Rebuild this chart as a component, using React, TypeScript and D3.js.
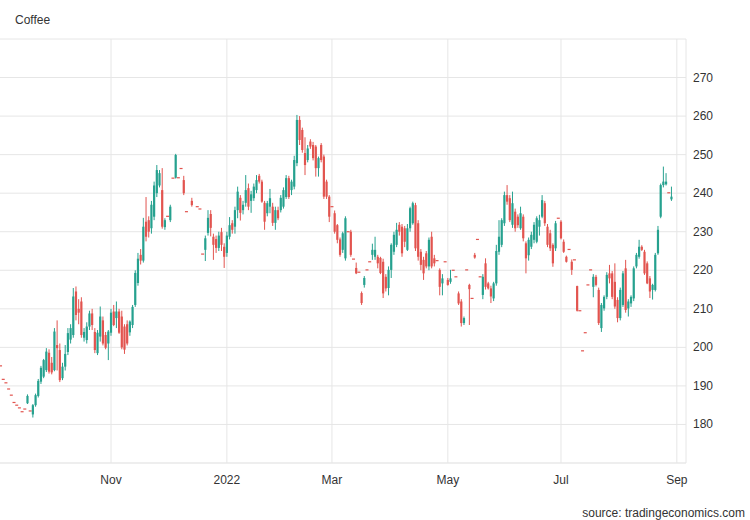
import React from "react";
import * as d3 from "d3";

const WIDTH = 750;
const HEIGHT = 520;
const PLOT = { left: 0, right: 686, top: 39, bottom: 463 };

const title = "Coffee";
const sourceText = "source: tradingeconomics.com";

// trading calendar (x categories)
const firstDay = "2021-09-01";
const lastDay = "2022-09-09";
const holidays = [
  "2021-09-06", "2021-11-25", "2021-12-24", "2022-01-17", "2022-02-21",
  "2022-04-15", "2022-05-30", "2022-06-20", "2022-07-04",
];
const tickMonths = ["2021-11", "2022-01", "2022-03", "2022-05", "2022-07", "2022-09"];
const tickLabels = ["Nov", "2022", "Mar", "May", "Jul", "Sep"];
const yTicks = [180, 190, 200, 210, 220, 230, 240, 250, 260, 270];
const yDomain = [170, 280];
const xDomain = [0.8, 255.4];

// OHLC per trading day starting 2021-09-01 (null = no mark)
const open = [
  196, 195.2, 191.7, 190.8, 189.2, 187.6, 185.7, 185.0, 184.3, 183.3,
  184.0, 185.5, 183.5, 182.6, 185.0, 187.4, 191.1, 192.4, 194.1, 198.6,
  196.0, 194.1, 200.6, 199.3, 192.0, 195.0, 198.8, 202.0, 203.2, 214.5,
  210.0, 211.9, 202.5, 201.9, 205.4, 208.8, 204.0, 198.5, 202.8, 207.0,
  203.2, 201.0, 203.8, 209.3, 207.6, 209.3, 208.0, 205.4, 206.0, 203.9,
  205.8, 211.0, 216.7, 224.0, 222.5, 232.6, 233.0, 230.9, 233.9, 240.0,
  242.0, 240.8, 231.2, 234.0, 233.0, 243.9, 244.0, 244.0, 246.4, 243.4,
  235.2, null, 238.0, null, 236.5, 235.9, 224.2, 225.3, 229.7, 234.6,
  228.7, 228.1, 225.8, 229.9, 226.1, 224.5, 228.7, 232.2, 231.3, 235.6,
  238.8, 235.6, 237.5, 241.3, 238.0, 238.7, 240.8, 244.5, 243.0, 237.5,
  234.8, 236.5, 236.5, 232.3, 235.6, 235.6, 236.5, 239.0, 243.9, 240.8,
  241.7, 247.8, 259.0, 256.4, 250.4, 248.6, 253.4, 252.5, 252.1, 246.5,
  252.5, 249.5, 243.0, 239.1, 236.5, 234.8, 231.7, 228.0, 225.3, 223.1,
  230.0, 230.0, 222.9, 220.6, 219.5, 214.1, 216.2, 220.1, 222.2, 224.0,
  223.5, 223.5, 223.2, 222.2, 218.3, 215.4, 220.1, 224.8, 226.6, 231.8,
  231.3, 230.9, 225.3, 230.9, 232.2, 236.9, 232.2, 224.8, 222.7, 224.4,
  221.0, 228.7, 223.1, 222.5, 220.1, 216.6, 222.2, 217.5, 217.0, 220.0,
  218.3, 214.0, 211.9, 206.3, 220.1, 216.2, 212.7, 224.0, 228.0, 218.3,
  213.6, 221.8, 216.6, 215.3, 212.7, 216.6, 224.8, 226.6, 232.2, 239.5,
  238.7, 231.8, 235.2, 233.9, 230.9, 233.9, 227.0, 223.9, 226.1, 227.9,
  227.4, 231.3, 233.9, 237.4, 231.3, 229.6, 226.6, 225.7, 233.5, 232.6,
  227.4, 223.5, 225.4, 222.2, 222.7, 215.9, 209.5, 199.1, 203.8, 216.2,
  220.1, 215.7, 218.3, 214.9, 205.0, 210.1, 213.1, 219.2, 219.2, 217.0,
  212.3, 207.6, 211.0, 220.5, 210.1, 211.4, 212.7, 221.0, 223.5, 226.1,
  224.8, 221.8, 217.9, 214.9, 214.9, 224.4, 233.9, 242.1, 242.3, 240.1,
  238.4,
];
const high = [
  196, 195.2, 191.7, 190.8, 189.2, 187.6, 185.7, 185.0, 184.3, 183.3,
  184.0, 187.8, 183.5, 185.3, 188.0, 191.8, 195.2, 197.0, 199.8, 199.5,
  197.5, 205.0, 207.0, 201.0, 196.0, 200.6, 205.0, 206.0, 215.4, 215.8,
  212.5, 213.0, 205.0, 206.5, 209.5, 210.0, 205.0, 204.5, 210.6, 208.0,
  204.0, 204.5, 210.0, 211.0, 211.9, 210.0, 209.5, 206.0, 207.0, 207.0,
  211.0, 220.0, 224.5, 225.5, 233.6, 239.0, 234.0, 238.0, 243.0, 247.3,
  246.0, 246.5, 233.5, 234.0, 237.0, 243.9, 250.2, 244.0, 246.4, 244.5,
  235.2, null, 238.8, null, 236.5, 235.9, 224.2, 229.0, 235.6, 235.6,
  229.5, 229.0, 230.0, 231.0, 227.0, 230.0, 233.8, 233.0, 236.5, 241.7,
  239.5, 238.0, 244.7, 242.5, 240.6, 242.5, 244.7, 245.0, 243.5, 238.0,
  238.0, 241.1, 237.5, 236.5, 236.5, 239.5, 241.5, 244.7, 244.5, 243.5,
  249.7, 260.3, 260.0, 257.0, 254.5, 252.5, 254.0, 253.3, 252.5, 249.5,
  253.0, 250.0, 243.5, 239.5, 236.5, 235.5, 232.0, 228.5, 230.0, 234.0,
  230.0, 230.5, 222.9, 222.0, 219.5, 214.5, 218.5, 220.1, 222.2, 226.9,
  228.7, 224.0, 223.5, 223.0, 219.0, 221.0, 227.0, 230.0, 232.3, 232.5,
  232.0, 231.5, 232.0, 236.5, 237.8, 237.5, 233.0, 225.5, 223.5, 225.0,
  228.5, 230.0, 224.0, 222.5, 220.5, 219.0, 222.2, 218.0, 220.1, 220.0,
  218.3, 214.5, 212.5, 208.0, 220.1, 216.5, 212.7, 224.5, 228.0, 218.3,
  219.0, 223.1, 217.0, 216.0, 217.0, 226.6, 233.0, 233.5, 240.4, 242.1,
  239.5, 240.4, 236.0, 234.5, 236.5, 234.5, 227.5, 228.5, 230.0, 232.5,
  234.0, 234.4, 239.5, 238.0, 232.0, 230.5, 227.0, 232.8, 233.5, 233.0,
  228.0, 223.8, 225.4, 222.8, 222.7, 216.0, 209.5, 199.1, 203.8, 216.2,
  220.1, 219.0, 218.8, 215.5, 211.5, 213.5, 219.5, 221.4, 219.8, 221.8,
  213.0, 215.5, 219.8, 222.7, 212.5, 213.5, 221.0, 224.5, 227.9, 226.5,
  225.3, 222.3, 218.5, 216.5, 224.5, 231.5, 242.5, 246.9, 245.2, 240.1,
  241.7,
];
const low = [
  196, 195.2, 191.7, 190.8, 189.2, 187.6, 185.7, 185.0, 184.3, 183.3,
  184.0, 185.3, 183.5, 181.8, 184.6, 187.0, 190.5, 192.0, 193.6, 193.2,
  193.0, 193.8, 194.0, 191.0, 191.5, 194.0, 198.0, 201.0, 202.5, 207.0,
  206.0, 202.5, 201.5, 201.0, 204.5, 204.5, 198.5, 198.0, 201.5, 200.5,
  199.5, 196.7, 203.0, 205.5, 205.0, 203.5, 199.5, 198.3, 200.5, 203.0,
  205.0, 210.5, 216.0, 221.5, 222.0, 227.5, 228.5, 229.5, 233.0, 239.0,
  241.5, 230.8, 230.5, 234.0, 232.5, 243.9, 243.8, 244.0, 246.4, 239.5,
  235.2, null, 236.5, null, 236.5, 235.9, 224.2, 222.4, 229.0, 228.8,
  222.7, 224.5, 225.0, 225.0, 220.6, 223.5, 228.0, 229.5, 229.5, 233.5,
  232.9, 234.5, 236.5, 235.6, 234.9, 238.0, 240.0, 242.5, 237.5, 230.5,
  234.0, 234.8, 231.5, 230.5, 233.0, 235.0, 236.0, 238.5, 238.5, 239.5,
  241.0, 247.0, 252.5, 250.5, 244.7, 248.0, 251.5, 248.5, 244.3, 244.3,
  248.0, 238.5, 238.5, 232.5, 236.5, 229.5, 227.0, 223.5, 224.5, 222.5,
  230.0, 223.5, 222.9, 219.0, 219.5, 211.0, 215.5, 220.1, 222.2, 222.7,
  222.7, 220.5, 219.0, 212.8, 214.5, 213.5, 218.0, 224.0, 226.0, 229.0,
  223.5, 226.0, 225.0, 230.0, 231.8, 225.0, 222.5, 220.0, 217.5, 220.5,
  220.0, 220.5, 221.0, 222.5, 213.5, 213.5, 222.2, 216.0, 216.5, 220.0,
  218.3, 211.0, 205.4, 205.8, 220.1, 205.8, 212.7, 223.0, 228.0, 218.3,
  212.5, 215.0, 215.0, 211.5, 212.0, 216.0, 224.0, 226.0, 231.5, 237.0,
  232.5, 231.0, 230.0, 231.0, 230.5, 227.5, 219.2, 222.5, 225.5, 227.0,
  227.0, 229.0, 233.5, 231.5, 226.0, 225.0, 220.9, 225.0, 233.5, 228.0,
  224.5, 222.0, 225.4, 218.8, 222.7, 209.3, 209.5, 199.1, 203.8, 216.2,
  220.1, 213.0, 215.8, 205.8, 204.0, 209.5, 212.5, 216.6, 212.5, 210.0,
  206.5, 207.0, 210.5, 209.0, 208.0, 210.5, 212.0, 220.5, 223.0, 225.0,
  218.8, 216.4, 212.8, 212.4, 214.5, 224.0, 233.5, 241.5, 242.0, 240.1,
  238.0,
];
const close = [
  196, 195.2, 191.7, 190.8, 189.2, 187.6, 185.7, 185.0, 184.3, 183.3,
  184.0, 187.4, 183.5, 185.0, 187.6, 191.3, 194.7, 196.7, 198.9, 193.7,
  193.5, 204.1, 199.8, 191.5, 195.0, 198.3, 203.7, 205.0, 213.2, 208.4,
  209.0, 203.2, 204.0, 205.4, 208.8, 205.8, 199.3, 203.8, 208.0, 201.0,
  199.9, 204.1, 209.0, 205.8, 209.3, 203.8, 200.0, 199.4, 201.0, 206.7,
  210.5, 219.3, 223.0, 222.5, 231.3, 228.7, 230.0, 237.0, 242.0, 246.0,
  245.2, 231.3, 233.0, 234.0, 236.5, 243.9, 249.9, 244.0, 246.4, 240.0,
  235.2, null, 236.9, null, 236.5, 235.9, 224.2, 228.3, 233.6, 231.0,
  226.6, 225.8, 229.0, 226.6, 223.5, 229.0, 231.7, 230.5, 235.6, 240.4,
  234.9, 237.0, 240.8, 236.5, 239.7, 241.7, 243.4, 243.0, 237.8, 232.6,
  237.4, 238.7, 232.3, 235.6, 233.5, 238.8, 240.8, 243.9, 239.0, 243.0,
  248.6, 259.0, 253.8, 251.2, 247.3, 251.6, 252.1, 249.1, 246.5, 249.1,
  248.6, 239.1, 239.1, 233.9, 236.5, 230.0, 227.9, 224.0, 229.6, 233.5,
  230.0, 224.0, 222.9, 219.2, 219.5, 211.5, 218.0, 220.1, 222.2, 225.3,
  225.3, 221.8, 219.3, 214.0, 215.3, 220.1, 226.6, 229.2, 230.5, 230.0,
  224.4, 227.4, 230.9, 236.1, 237.4, 225.7, 223.5, 221.4, 219.2, 221.0,
  227.9, 221.0, 221.8, 222.5, 215.7, 217.9, 222.2, 216.2, 217.9, 220.0,
  218.3, 211.4, 206.3, 207.6, 220.1, 215.1, 212.7, 223.3, 228.0, 218.3,
  218.3, 215.7, 215.3, 213.2, 216.6, 225.0, 228.7, 233.0, 239.5, 237.8,
  233.0, 237.4, 230.9, 231.7, 234.8, 228.3, 223.1, 227.9, 229.2, 231.8,
  233.5, 233.0, 238.2, 232.2, 226.6, 225.7, 221.8, 232.2, 233.5, 228.3,
  224.8, 222.2, 225.4, 220.1, 222.7, 209.5, 209.5, 199.1, 203.8, 216.2,
  220.1, 218.3, 216.2, 206.3, 211.0, 213.1, 218.8, 217.9, 213.1, 210.6,
  207.6, 214.9, 219.2, 209.7, 211.9, 213.1, 220.5, 224.0, 226.1, 225.3,
  219.2, 216.6, 214.5, 216.2, 224.0, 230.5, 242.1, 243.0, 243.0, 240.1,
  239.1,
];

const UP = "#26a18f";
const DOWN = "#e2544f";
const GRID = "#e6e6e6";
const TEXT = "#333333";
const FONT = "Arial, 'Liberation Sans', sans-serif";

function tradingDays(): Date[] {
  const parse = d3.timeParse("%Y-%m-%d");
  const fmt = d3.timeFormat("%Y-%m-%d");
  const start = parse(firstDay) as Date;
  const end = parse(lastDay) as Date;
  const hol = new Set(holidays);
  return d3.timeDay
    .range(start, d3.timeDay.offset(end, 1))
    .filter((d) => d.getDay() !== 0 && d.getDay() !== 6 && !hol.has(fmt(d)));
}

export default function App() {
  const days = tradingDays();
  const monthFmt = d3.timeFormat("%Y-%m");
  const x = d3.scaleLinear().domain(xDomain).range([PLOT.left, PLOT.right]);
  const y = d3.scaleLinear().domain(yDomain).range([PLOT.bottom, PLOT.top]);

  const ticks = tickMonths.map((m, k) => {
    const idx = days.findIndex((d) => monthFmt(d) === m);
    return { idx, label: tickLabels[k] };
  });

  const bodyW = 2.2;
  const dashW = 3;
  const candles = d3
    .range(close.length)
    .filter((i) => close[i] != null)
    .map((i) => {
      const o = open[i] as number;
      const c = close[i] as number;
      const h = high[i] as number;
      const l = low[i] as number;
      return { i, o, c, h, l, up: c > o };
    });

  const gridYs = [...yTicks, yDomain[1]];

  return (
    <svg
      width={WIDTH}
      height={HEIGHT}
      style={{ position: "absolute", left: 0, top: 0, background: "#fff" }}
      fontFamily={FONT}
    >
      <defs>
        <clipPath id="plotClip">
          <rect x={PLOT.left} y={PLOT.top} width={PLOT.right - PLOT.left} height={PLOT.bottom - PLOT.top} />
        </clipPath>
      </defs>
      <rect x={0} y={0} width={WIDTH} height={HEIGHT} fill="#fff" />
      <text x={15} y={24} fontSize={12} fill={TEXT}>
        {title}
      </text>

      {/* horizontal grid */}
      {gridYs.map((v) => (
        <line key={"h" + v} x1={PLOT.left} x2={PLOT.right} y1={y(v)} y2={y(v)} stroke={GRID} strokeWidth={1} />
      ))}
      <line x1={PLOT.left} x2={PLOT.right} y1={y(yDomain[0])} y2={y(yDomain[0])} stroke="#dddddd" strokeWidth={1} />
      {/* vertical grid */}
      {ticks.map((t) => (
        <line key={"v" + t.label} x1={x(t.idx)} x2={x(t.idx)} y1={PLOT.top} y2={PLOT.bottom} stroke={GRID} strokeWidth={1} />
      ))}
      <line x1={PLOT.right} x2={PLOT.right} y1={PLOT.top} y2={PLOT.bottom} stroke={GRID} strokeWidth={1} />

      {/* candles */}
      <g clipPath="url(#plotClip)">
        {candles.map((d) => {
          const cx = x(d.i);
          const color = d.up ? UP : DOWN;
          const flat = d.o === d.c && d.h === d.l;
          if (flat) {
            return <rect key={d.i} x={cx - dashW / 2} y={y(d.c) - 0.6} width={dashW} height={1.2} fill={color} />;
          }
          const top = y(Math.max(d.o, d.c));
          const bot = y(Math.min(d.o, d.c));
          return (
            <g key={d.i}>
              <line x1={cx} x2={cx} y1={y(d.h)} y2={y(d.l)} stroke={color} strokeWidth={1} />
              <rect x={cx - bodyW / 2} y={top} width={bodyW} height={Math.max(1, bot - top)} fill={color} />
            </g>
          );
        })}
      </g>

      {/* y labels */}
      {yTicks.map((v) => (
        <text key={"yl" + v} x={693} y={y(v) + 4} fontSize={12} fill={TEXT}>
          {v}
        </text>
      ))}
      {/* x labels */}
      {ticks.map((t) => (
        <text key={"xl" + t.label} x={x(t.idx)} y={484} fontSize={12} fill={TEXT} textAnchor="middle">
          {t.label}
        </text>
      ))}

      <text x={745} y={517} fontSize={12} fill={TEXT} textAnchor="end">
        {sourceText}
      </text>
    </svg>
  );
}
